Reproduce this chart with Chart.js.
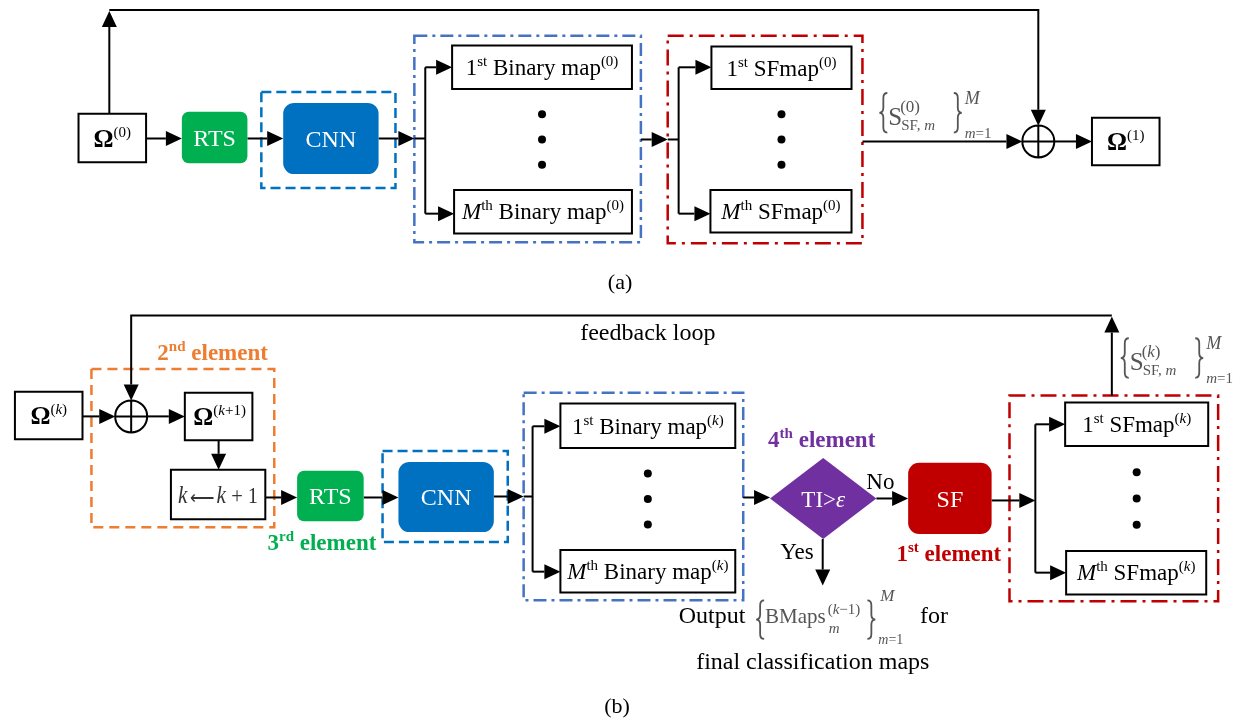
<!DOCTYPE html>
<html>
<head>
<meta charset="utf-8">
<script src="https://cdn.jsdelivr.net/npm/chart.js@4/dist/chart.umd.min.js"></script>
<style>
  html, body { margin: 0; padding: 0; background: #fff; overflow: hidden; }
  canvas { display: block; }
</style>
</head>
<body>
<canvas id="flow" width="1245" height="724"></canvas>
<script>
// Diagram content
const stageNames = ['RTS', 'CNN', 'SF'];
const mapKinds = ['Binary map', 'SFmap'];
const mapOrdinals = [['1', 'st'], ['M', 'th']];
const elementOrdinals = [['1', 'st'], ['2', 'nd'], ['3', 'rd'], ['4', 'th']];
const iterTop = ['0', '1'];
const iterBottom = ['k', 'k+1'];
const decisionWords = ['Yes', 'No'];
const captions = ['(a)', '(b)'];
const dotsPerColumn = 3;

const SERIF = '"Liberation Serif", "Times New Roman", serif';
const C = {
    green: '#00B050', blue: '#0070C0', frameBlue: '#4472C4', red: '#C00000',
    orange: '#ED7D31', purple: '#7030A0', math: '#555555', ink: '#000000'
};

// Layout in diagram units (x 0..1245, y 0..724, top-down)
const layout = {
    omega0: [75, 111, 143, 160],
    rtsA: [179, 109, 245, 161],
    cnnFrameA: [259, 89, 394, 186],
    cnnA: [281, 100, 377, 172],
    binFrameA: [413, 32, 641, 241],
    binA: [[451, 42, 632, 86], [453, 188, 632, 232]],
    sfFrameA: [668, 32, 864, 242],
    sfA: [[712, 43, 853, 86], [711, 188, 853, 231]],
    sumA: [1041, 139, 16],
    omega1: [1095, 115, 1163, 163],

    omegaK: [11, 392, 79, 440],
    elem2Frame: [88, 369, 272, 529],
    sumB: [128, 417, 16],
    omegaK1: [182, 393, 250, 441],
    incr: [168, 471, 263, 521],
    rtsB: [295, 472, 362, 523],
    cnnFrameB: [381, 452, 507, 544],
    cnnB: [397, 463, 493, 534],
    binFrameB: [523, 393, 744, 603],
    binB: [[560, 404, 736, 449], [560, 552, 736, 595]],
    diamond: [771, 459, 878, 541],
    sfB: [910, 464, 994, 536],
    sfFrameB: [1012, 396, 1222, 604],
    sfMapsB: [[1068, 403, 1212, 447], [1069, 553, 1210, 597]]
};

// connectors: [points, hasArrowHead]
const links = [
    [[[106, 111], [106, 7]], true],
    [[[106, 6], [1041, 6], [1041, 123]], true],
    [[[143, 136], [179, 136]], true],
    [[[245, 136], [281, 136]], true],
    [[[377, 136], [413, 136]], true],
    [[[413, 136], [424, 136]], false],
    [[[424, 64], [424, 212]], false],
    [[[424, 64], [451, 64]], true],
    [[[424, 212], [453, 212]], true],
    [[[641, 137], [668, 137]], true],
    [[[668, 137], [679, 137]], false],
    [[[679, 64], [679, 212]], false],
    [[[679, 64], [712, 64]], true],
    [[[679, 212], [711, 212]], true],
    [[[864, 139], [1025, 139]], true],
    [[[1057, 139], [1095, 139]], true],

    [[[1115, 396], [1115, 316]], true],
    [[[1115, 315], [128, 315], [128, 401]], true],
    [[[79, 417], [112, 417]], true],
    [[[144, 417], [182, 417]], true],
    [[[216, 441], [216, 471]], true],
    [[[263, 499], [295, 499]], true],
    [[[362, 499], [397, 499]], true],
    [[[493, 498], [523, 498]], true],
    [[[523, 498], [532, 498]], false],
    [[[532, 427], [532, 574]], false],
    [[[532, 427], [560, 427]], true],
    [[[532, 574], [560, 574]], true],
    [[[744, 499], [771, 499]], true],
    [[[878, 500], [910, 500]], true],
    [[[824, 541], [824, 588]], true],
    [[[994, 502], [1038, 502]], true],
    [[[1038, 425], [1038, 575]], false],
    [[[1038, 425], [1068, 425]], true],
    [[[1038, 575], [1069, 575]], true]
];

// ellipsis dots between the first and M-th map of each column
function ellipsis(first, last) {
    const cx = (first[0] + first[2]) / 2;
    const gap = last[1] - first[3];
    const pts = [];
    for (let i = 1; i <= dotsPerColumn; i++) {
        pts.push({ x: cx, y: first[3] + gap * i / (dotsPerColumn + 1) });
    }
    return pts;
}
const dotPoints = [
    ...ellipsis(layout.binA[0], layout.binA[1]),
    ...ellipsis(layout.sfA[0], layout.sfA[1]),
    ...ellipsis(layout.binB[0], layout.binB[1]),
    ...ellipsis(layout.sfMapsB[0], layout.sfMapsB[1])
];

// ---- text helpers ----
function fontFor(p) {
    return `${p.i ? 'italic ' : ''}${p.b ? 'bold ' : ''}${p.size}px ${SERIF}`;
}
function partsWidth(ctx, parts) {
    let w = 0;
    parts.forEach(p => { ctx.font = fontFor(p); w += ctx.measureText(p.t).width; });
    return w;
}
function drawParts(ctx, parts, x, b) {
    parts.forEach(p => {
        ctx.font = fontFor(p);
        ctx.fillText(p.t, x, b + (p.dy || 0));
        x += ctx.measureText(p.t).width;
    });
}
function centered(ctx, parts, cx, cy, color, maxW) {
    ctx.fillStyle = color;
    const w = partsWidth(ctx, parts);
    const main = Math.max(...parts.map(p => p.dy ? 0 : p.size));
    const k = maxW && w > maxW ? maxW / w : 1;
    ctx.save();
    ctx.translate(cx, cy + main * 0.34);
    ctx.scale(k, 1);
    drawParts(ctx, parts, -w / 2, 0);
    ctx.restore();
}
// letters italic, digits and signs upright
function mathRun(str, size, dy, extra = {}) {
    const out = [];
    for (const ch of str) {
        const it = /[a-zA-Z]/.test(ch);
        const last = out[out.length - 1];
        if (last && last.i === it) last.t += ch;
        else out.push({ t: ch, size, dy, i: it, ...extra });
    }
    return out;
}
function iterSup(iter, size, dy) {
    return mathRun('(' + iter + ')', size, dy);
}
function mapLabel(ord, kind, iter) {
    const first = ord[0] === 'M' ? { t: 'M', size: 23, i: true } : { t: ord[0], size: 23 };
    return [first, { t: ord[1], size: 15, dy: -9 }, { t: ' ' + kind, size: 23 }, ...iterSup(iter, 15, -9)];
}
function omegaLabel(iter) {
    return [{ t: 'Ω', size: 25, b: true }, ...iterSup(iter, 15, -10)];
}
function elementLabel(ord) {
    return [{ t: ord[0], size: 23, b: true }, { t: ord[1], size: 15, b: true, dy: -9 }, { t: ' element', size: 23, b: true }];
}
// curly brace drawn as a path, x = outer point side, open toward the content
function brace(ctx, x, top, bottom, left) {
    const w = 8, s = left ? 1 : -1, mid = (top + bottom) / 2;
    const tip = x + s * w, stem = x + s * w / 2;
    ctx.beginPath();
    ctx.moveTo(tip, top);
    ctx.quadraticCurveTo(stem, top, stem, top + 5);
    ctx.lineTo(stem, mid - 5);
    ctx.quadraticCurveTo(stem, mid, x, mid);
    ctx.quadraticCurveTo(stem, mid, stem, mid + 5);
    ctx.lineTo(stem, bottom - 5);
    ctx.quadraticCurveTo(stem, bottom, tip, bottom);
    ctx.lineWidth = 1.8;
    ctx.stroke();
}

const flowDiagram = {
    id: 'flowDiagram',
    beforeDatasetsDraw(chart) {
        const ctx = chart.ctx;
        const xs = chart.scales.x, ys = chart.scales.y;
        const X = v => xs.getPixelForValue(v);
        const Y = v => ys.getPixelForValue(v);
        const L = layout;

        function roundRect(r, rad) {
            const x0 = X(r[0]), y0 = Y(r[1]), x1 = X(r[2]), y1 = Y(r[3]);
            ctx.beginPath();
            if (rad) ctx.roundRect(x0, y0, x1 - x0, y1 - y0, rad);
            else ctx.rect(x0, y0, x1 - x0, y1 - y0);
        }
        function frame(r, color, dash) {
            ctx.save();
            roundRect(r, 0);
            ctx.setLineDash(dash);
            ctx.strokeStyle = color;
            ctx.lineWidth = 2.5;
            ctx.stroke();
            ctx.restore();
        }
        function plainBox(r) {
            roundRect(r, 0);
            ctx.fillStyle = '#fff';
            ctx.fill();
            ctx.strokeStyle = C.ink;
            ctx.lineWidth = 2;
            ctx.stroke();
        }
        function filledBox(r, color, rad) {
            roundRect(r, rad);
            ctx.fillStyle = color;
            ctx.fill();
        }
        function mid(r) { return [X((r[0] + r[2]) / 2), Y((r[1] + r[3]) / 2)]; }
        function link(pts, head) {
            const p = pts.map(q => [X(q[0]), Y(q[1])]);
            const n = p.length;
            const end = p[n - 1];
            const prev = p[n - 2];
            const ang = Math.atan2(end[1] - prev[1], end[0] - prev[0]);
            const HL = 16, HW = 7.5;
            const base = head ? [end[0] - HL * Math.cos(ang), end[1] - HL * Math.sin(ang)] : end;
            ctx.beginPath();
            ctx.moveTo(p[0][0], p[0][1]);
            for (let i = 1; i < n - 1; i++) ctx.lineTo(p[i][0], p[i][1]);
            ctx.lineTo(base[0], base[1]);
            ctx.strokeStyle = C.ink;
            ctx.lineWidth = 2;
            ctx.stroke();
            if (head) {
                const s = Math.sin(ang), c = Math.cos(ang);
                ctx.beginPath();
                ctx.moveTo(end[0], end[1]);
                ctx.lineTo(base[0] + HW * s, base[1] - HW * c);
                ctx.lineTo(base[0] - HW * s, base[1] + HW * c);
                ctx.closePath();
                ctx.fillStyle = C.ink;
                ctx.fill();
            }
        }
        function sum(c) {
            const cx = X(c[0]), cy = Y(c[1]), r = c[2];
            ctx.beginPath();
            ctx.arc(cx, cy, r, 0, Math.PI * 2);
            ctx.fillStyle = '#fff';
            ctx.fill();
            ctx.moveTo(cx - r, cy); ctx.lineTo(cx + r, cy);
            ctx.moveTo(cx, cy - r); ctx.lineTo(cx, cy + r);
            ctx.strokeStyle = C.ink;
            ctx.lineWidth = 2;
            ctx.stroke();
        }
        function setLabel(ax, top, iter) {
            // {S^(iter)_{SF,m}}^M_{m=1}, ax = left brace, top = brace top
            ctx.fillStyle = C.math;
            ctx.strokeStyle = C.math;
            brace(ctx, X(ax), Y(top), Y(top + 40), true);
            drawParts(ctx, [{ t: 'S', size: 25 }], X(ax + 9), Y(top + 32));
            drawParts(ctx, iterSup(iter, 17, 0), X(ax + 21), Y(top + 19));
            drawParts(ctx, [{ t: 'SF, ', size: 15 }, { t: 'm', size: 15, i: true }], X(ax + 22), Y(top + 37));
            brace(ctx, X(ax + 83), Y(top), Y(top + 40), false);
            drawParts(ctx, [{ t: 'M', size: 18, i: true }], X(ax + 86), Y(top + 11));
            drawParts(ctx, mathRun('m=1', 15, 0), X(ax + 86), Y(top + 45));
        }

        ctx.save();
        ctx.textBaseline = 'alphabetic';
        ctx.textAlign = 'left';

        // dashed frames
        frame(L.cnnFrameA, C.blue, [10, 5]);
        frame(L.binFrameA, C.frameBlue, [13, 5, 3, 5]);
        frame(L.sfFrameA, C.red, [16, 6, 3, 6]);
        frame(L.elem2Frame, C.orange, [10, 6]);
        frame(L.cnnFrameB, C.blue, [10, 5]);
        frame(L.binFrameB, C.frameBlue, [13, 5, 3, 5]);
        frame(L.sfFrameB, C.red, [16, 6, 3, 6]);

        // connectors
        links.forEach(([pts, head]) => link(pts, head));
        sum(L.sumA);
        sum(L.sumB);

        // stage blocks
        filledBox(L.rtsA, C.green, 7);
        filledBox(L.cnnA, C.blue, 11);
        filledBox(L.rtsB, C.green, 7);
        filledBox(L.cnnB, C.blue, 11);
        filledBox(L.sfB, C.red, 11);
        const stageSpecs = [[L.rtsA, 0], [L.cnnA, 1], [L.rtsB, 0], [L.cnnB, 1], [L.sfB, 2]];
        stageSpecs.forEach(([r, k]) => {
            const [cx, cy] = mid(r);
            centered(ctx, [{ t: stageNames[k], size: 24 }], cx, cy, '#fff');
        });

        // decision diamond
        const d = L.diamond;
        const dcx = (d[0] + d[2]) / 2, dcy = (d[1] + d[3]) / 2;
        ctx.beginPath();
        ctx.moveTo(X(d[0]), Y(dcy));
        ctx.lineTo(X(dcx), Y(d[1]));
        ctx.lineTo(X(d[2]), Y(dcy));
        ctx.lineTo(X(dcx), Y(d[3]));
        ctx.closePath();
        ctx.fillStyle = C.purple;
        ctx.fill();
        centered(ctx, [{ t: 'TI>', size: 23 }, { t: 'ε', size: 23, i: true }], X(dcx), Y(dcy + 1), '#fff');

        // plain boxes
        [L.omega0, L.omega1, L.omegaK, L.omegaK1, L.incr,
         ...L.binA, ...L.sfA, ...L.binB, ...L.sfMapsB].forEach(plainBox);

        let m;
        m = mid(L.omega0); centered(ctx, omegaLabel(iterTop[0]), m[0], m[1], C.ink);
        m = mid(L.omega1); centered(ctx, omegaLabel(iterTop[1]), m[0], m[1], C.ink);
        m = mid(L.omegaK); centered(ctx, omegaLabel(iterBottom[0]), m[0], m[1], C.ink);
        m = mid(L.omegaK1); centered(ctx, omegaLabel(iterBottom[1]), m[0] + 1, m[1], C.ink);
        m = mid(L.incr);
        centered(ctx, [{ t: 'k', size: 25, i: true }, { t: ' ', size: 10 }, { t: '⟵', size: 20, dy: 1 }, { t: ' ', size: 10 },
                       { t: 'k', size: 25, i: true }, { t: ' + 1', size: 24 }], m[0], m[1], '#333', 80);

        const columns = [[L.binA, 0, iterTop[0]], [L.sfA, 1, iterTop[0]], [L.binB, 0, iterBottom[0]], [L.sfMapsB, 1, iterBottom[0]]];
        columns.forEach(([boxes, kind, iter]) => {
            boxes.forEach((r, j) => {
                const c = mid(r);
                centered(ctx, mapLabel(mapOrdinals[j], mapKinds[kind], iter), c[0], c[1], C.ink);
            });
        });

        // element tags
        centered(ctx, elementLabel(elementOrdinals[1]), X(210), Y(352), C.orange);
        centered(ctx, elementLabel(elementOrdinals[2]), X(320), Y(544), C.green);
        centered(ctx, elementLabel(elementOrdinals[3]), X(823), Y(440), C.purple);
        centered(ctx, elementLabel(elementOrdinals[0]), X(951), Y(555), C.red);

        // branch words and free text
        centered(ctx, [{ t: decisionWords[1], size: 23 }], X(882), Y(483), C.ink);
        centered(ctx, [{ t: decisionWords[0], size: 23 }], X(798), Y(553), C.ink);
        centered(ctx, [{ t: 'feedback loop', size: 24 }], X(648), Y(332), C.ink);

        // set labels
        setLabel(881, 90, iterTop[0]);
        setLabel(1124, 338, iterBottom[0]);

        // output line
        ctx.fillStyle = C.ink;
        drawParts(ctx, [{ t: 'Output', size: 24 }], X(679), Y(626));
        drawParts(ctx, [{ t: 'for', size: 24 }], X(922), Y(626));
        ctx.fillStyle = C.math;
        ctx.strokeStyle = C.math;
        brace(ctx, X(757), Y(603), Y(642), true);
        drawParts(ctx, [{ t: 'BMaps', size: 21 }], X(766), Y(626));
        drawParts(ctx, mathRun('(k−1)', 15, 0), X(829), Y(617));
        drawParts(ctx, [{ t: 'm', size: 15, i: true }], X(830), Y(636));
        brace(ctx, X(877), Y(603), Y(642), false);
        drawParts(ctx, [{ t: 'M', size: 17, i: true }], X(882), Y(604));
        drawParts(ctx, mathRun('m=1', 14, 0), X(880), Y(647));
        centered(ctx, [{ t: 'final classification maps', size: 24 }], X(814), Y(664), C.ink);

        // captions
        centered(ctx, [{ t: captions[0], size: 22 }], X(620), Y(281), C.ink);
        centered(ctx, [{ t: captions[1], size: 22 }], X(617), Y(709), C.ink);

        ctx.restore();
    }
};

new Chart(document.getElementById('flow'), {
    type: 'scatter',
    data: {
        datasets: [{
            label: 'ellipsis',
            data: dotPoints,
            pointRadius: 4,
            pointHoverRadius: 4,
            pointBackgroundColor: '#000',
            pointBorderWidth: 0,
            showLine: false
        }]
    },
    options: {
        responsive: false,
        animation: false,
        devicePixelRatio: 1,
        layout: { padding: 0 },
        events: [],
        plugins: {
            legend: { display: false },
            tooltip: { enabled: false }
        },
        scales: {
            x: { type: 'linear', min: 0, max: 1245, display: false },
            y: { type: 'linear', min: 0, max: 724, reverse: true, display: false }
        }
    },
    plugins: [flowDiagram]
});
</script>
</body>
</html>
